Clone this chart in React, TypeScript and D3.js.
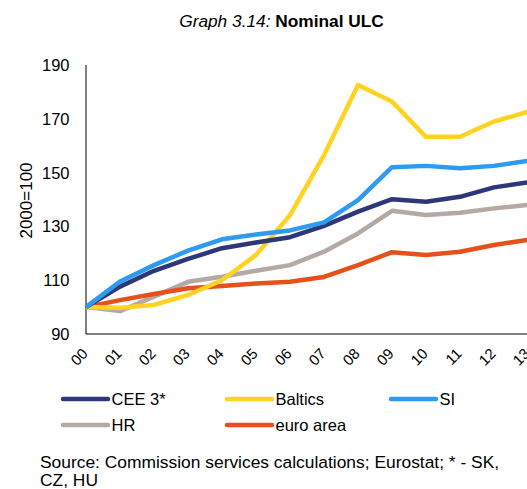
import React from "react";
import * as d3 from "d3";

const years = ["00","01","02","03","04","05","06","07","08","09","10","11","12","13"];
const cee3 = [100,107.6,113.5,117.9,121.9,124,126,130.2,135.5,140.1,139.2,141,144.5,146.4];
const baltics = [100,99.8,100.8,104.5,110,119.4,134.2,156.5,182.6,176.4,163.3,163.3,169,172.6];
const si = [100,109.5,115.6,121,125.2,127,128.5,131.5,139.8,152,152.5,151.6,152.5,154.4];
const hr = [100,98.5,103.9,109.4,111.3,113.5,115.6,120.6,127.4,135.8,134.2,135.1,136.7,138];
const euro = [100,102.6,104.9,107,107.8,108.8,109.4,111.2,115.6,120.4,119.4,120.6,123.1,125];
const yTicks = [90,110,130,150,170,190];

const seriesNames = ["CEE 3*","Baltics","SI","HR","euro area"];
const seriesColors = ["#2E3878","#FFD320","#2E9BF0","#B4A9A4","#E8501B"];
const seriesData = [cee3, baltics, si, hr, euro];

const FONT = "'Liberation Sans', Arial, sans-serif";

export default function App() {
  const W = 527, H = 489;
  const x = d3.scalePoint<string>().domain(years).range([86, 528]);
  const y = d3.scaleLinear().domain([90, 190]).range([334, 65]);
  const line = d3.line<number>().x((_, i) => x(years[i]) as number).y((d) => y(d));

  const drawOrder = [3, 4, 1, 0, 2];
  const legendPos = [
    { x: 63, y: 399 }, { x: 227, y: 399 }, { x: 391, y: 399 },
    { x: 63, y: 425 }, { x: 227, y: 425 },
  ];

  return (
    <svg width={W} height={H} style={{ position: "absolute", left: 0, top: 0, display: "block", background: "#fff" }} fontFamily={FONT}>
      <text x={281.5} y={27} textAnchor="middle" fontSize={17.3} fill="#000">
        <tspan fontStyle="italic">Graph 3.14: </tspan>
        <tspan fontWeight="bold">Nominal ULC</tspan>
      </text>

      {yTicks.map((t) => (
        <text key={t} x={69.5} y={y(t)} dy="0.36em" textAnchor="end" fontSize={16.5} fill="#000">{t}</text>
      ))}
      <text transform={`translate(32,200.5) rotate(-90)`} textAnchor="middle" fontSize={17} fill="#000">2000=100</text>

      {years.map((yr) => (
        <text key={yr} transform={`translate(${(x(yr) as number) - 1},${351}) rotate(-45)`} textAnchor="end" dy="0.35em" fontSize={15} fill="#000">{yr}</text>
      ))}

      <line x1={86} y1={65} x2={86} y2={334} stroke="#000" strokeWidth={1} />
      <line x1={86} y1={334} x2={W} y2={334} stroke="#000" strokeWidth={1} />

      {drawOrder.map((i) => (
        <path key={i} d={line(seriesData[i]) || ""} fill="none" stroke={seriesColors[i]} strokeWidth={4.5} strokeLinejoin="round" />
      ))}

      {seriesNames.map((n, i) => (
        <g key={n}>
          <line x1={legendPos[i].x} x2={legendPos[i].x + 45} y1={legendPos[i].y} y2={legendPos[i].y} stroke={seriesColors[i]} strokeWidth={4.5} strokeLinecap="round" />
          <text x={legendPos[i].x + 48.5} y={legendPos[i].y} dy="0.36em" fontSize={16.5} fill="#000">{n}</text>
        </g>
      ))}

      <text x={40} y={468} fontSize={17.4} fill="#000">Source: Commission services calculations; Eurostat; * - SK,</text>
      <text x={40} y={486} fontSize={17.4} fill="#000">CZ, HU</text>
    </svg>
  );
}
